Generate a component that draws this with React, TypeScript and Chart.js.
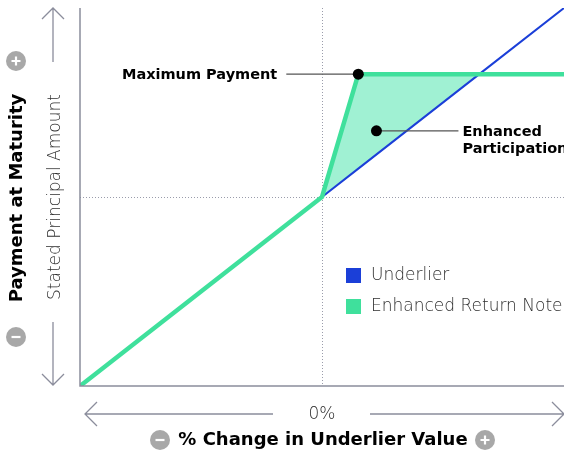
import React, { useEffect, useRef } from "react";
import { Chart, registerables } from "chart.js";

Chart.register(...registerables);

const xValues = [-1, 0, 0.15, 0.65, 1];
const underlierValues = [-1, 0, 0.15, 0.65, 1];
const enhancedValues = [-1, 0, 0.65, 0.65, 0.65];
const seriesLabels = ["Underlier", "Enhanced Return Note"];
const maxPaymentPoint = { x: 0.15, y: 0.65 };
const participationPoint = { x: 0.225, y: 0.35 };
const xAxisTitle = "% Change in Underlier Value";
const yAxisTitle = "Payment at Maturity";
const yMidLabel = "Stated Principal Amount";
const xMidLabel = "0%";

const BLUE = "#1b3fd8";
const GREEN = "#3fe09c";
const FILL = "#a0f1d3";
const AXIS = "#8b8d9c";
const CIRCLE = "#a8a8a8";
const BOLD_FONT = "'DejaVu Sans', sans-serif";
const LIGHT_FONT = "'DejaVu Sans', sans-serif";
const LIGHT_COLOR = "#2e2e2e";

function circleSign(ctx: CanvasRenderingContext2D, cx: number, cy: number, plus: boolean) {
  ctx.save();
  ctx.fillStyle = CIRCLE;
  ctx.beginPath();
  ctx.arc(cx, cy, 10, 0, Math.PI * 2);
  ctx.fill();
  ctx.strokeStyle = "#ffffff";
  ctx.lineWidth = 2.2;
  ctx.beginPath();
  ctx.moveTo(cx - 4.5, cy);
  ctx.lineTo(cx + 4.5, cy);
  if (plus) {
    ctx.moveTo(cx, cy - 4.5);
    ctx.lineTo(cx, cy + 4.5);
  }
  ctx.stroke();
  ctx.restore();
}

const decorPlugin = {
  id: "decor",
  beforeDatasetsDraw(chart: any) {
    const { ctx, chartArea, scales } = chart;
    const xs = scales.x;
    const ys = scales.y;
    const x0 = xs.getPixelForValue(0);
    const y0 = ys.getPixelForValue(0);
    ctx.save();
    ctx.strokeStyle = "#9a9cab";
    ctx.lineWidth = 1;
    ctx.setLineDash([1, 2]);
    ctx.beginPath();
    ctx.moveTo(Math.round(x0) + 0.5, chartArea.top);
    ctx.lineTo(Math.round(x0) + 0.5, chartArea.bottom);
    ctx.moveTo(chartArea.left, Math.round(y0) + 0.5);
    ctx.lineTo(chartArea.right, Math.round(y0) + 0.5);
    ctx.stroke();
    ctx.restore();
  },
  afterDatasetsDraw(chart: any) {
    const { ctx, chartArea, scales } = chart;
    const xs = scales.x;
    const ys = scales.y;
    const left = chartArea.left;
    const right = chartArea.right;
    const top = chartArea.top;
    const bottom = chartArea.bottom;
    const xc = xs.getPixelForValue(0);
    const yc = ys.getPixelForValue(0);

    // axis lines
    ctx.save();
    ctx.strokeStyle = AXIS;
    ctx.lineWidth = 1.5;
    ctx.beginPath();
    ctx.moveTo(left, top);
    ctx.lineTo(left, bottom);
    ctx.lineTo(right, bottom);
    ctx.stroke();
    ctx.restore();

    // annotations
    const mx = xs.getPixelForValue(maxPaymentPoint.x);
    const my = ys.getPixelForValue(maxPaymentPoint.y);
    const px = xs.getPixelForValue(participationPoint.x);
    const py = ys.getPixelForValue(participationPoint.y);
    ctx.save();
    ctx.strokeStyle = "#555555";
    ctx.lineWidth = 1.2;
    ctx.beginPath();
    ctx.moveTo(mx - 72, my);
    ctx.lineTo(mx, my);
    ctx.moveTo(px, py);
    ctx.lineTo(px + 82, py);
    ctx.stroke();
    ctx.fillStyle = "#000000";
    ctx.beginPath();
    ctx.arc(mx, my, 5.5, 0, Math.PI * 2);
    ctx.fill();
    ctx.beginPath();
    ctx.arc(px, py, 5.5, 0, Math.PI * 2);
    ctx.fill();
    ctx.font = `bold 14.5px ${BOLD_FONT}`;
    ctx.textBaseline = "middle";
    ctx.textAlign = "right";
    ctx.fillText("Maximum Payment", mx - 81, my + 1);
    ctx.textAlign = "left";
    ctx.fillText("Enhanced", px + 86, py + 1);
    ctx.fillText("Participation", px + 86, py + 18);
    ctx.restore();

    // legend
    const datasets = chart.data.datasets;
    ctx.save();
    ctx.font = `200 17px ${LIGHT_FONT}`;
    ctx.textBaseline = "middle";
    ctx.textAlign = "left";
    datasets.forEach((ds: any, i: number) => {
      const ly = 275 + i * 31;
      ctx.fillStyle = ds.borderColor;
      ctx.fillRect(346, ly - 7, 15, 15);
      ctx.fillStyle = LIGHT_COLOR;
      ctx.fillText(ds.label, 371, ly + 1);
    });
    ctx.restore();

    // vertical outside arrow
    const ax = 53;
    ctx.save();
    ctx.strokeStyle = AXIS;
    ctx.lineWidth = 1.3;
    ctx.beginPath();
    ctx.moveTo(ax, top);
    ctx.lineTo(ax, 62);
    ctx.moveTo(ax, 322);
    ctx.lineTo(ax, bottom - 1);
    ctx.moveTo(ax - 11, top + 11);
    ctx.lineTo(ax, top);
    ctx.lineTo(ax + 11, top + 11);
    ctx.moveTo(ax - 11, bottom - 12);
    ctx.lineTo(ax, bottom - 1);
    ctx.lineTo(ax + 11, bottom - 12);
    // horizontal outside arrow
    const hy = 414;
    ctx.moveTo(85, hy);
    ctx.lineTo(273, hy);
    ctx.moveTo(370, hy);
    ctx.lineTo(right, hy);
    ctx.moveTo(97, hy - 12);
    ctx.lineTo(85, hy);
    ctx.lineTo(97, hy + 12);
    ctx.moveTo(right - 12, hy - 12);
    ctx.lineTo(right, hy);
    ctx.lineTo(right - 12, hy + 12);
    ctx.stroke();
    ctx.restore();

    // labels
    ctx.save();
    ctx.fillStyle = LIGHT_COLOR;
    ctx.font = `200 17px ${LIGHT_FONT}`;
    ctx.textAlign = "center";
    ctx.textBaseline = "middle";
    ctx.fillText(xMidLabel, xc, 415);
    ctx.save();
    ctx.translate(56, yc);
    ctx.rotate(-Math.PI / 2);
    ctx.fillText(yMidLabel, 0, 0);
    ctx.restore();
    ctx.fillStyle = "#000000";
    ctx.font = `bold 18px ${BOLD_FONT}`;
    ctx.fillText(xAxisTitle, xc + 1, 440);
    ctx.save();
    ctx.translate(17, yc + 1);
    ctx.rotate(-Math.PI / 2);
    ctx.fillText(yAxisTitle, 0, 0);
    ctx.restore();
    ctx.restore();

    circleSign(ctx, 16, 61, true);
    circleSign(ctx, 16, 337, false);
    circleSign(ctx, 160, 440, false);
    circleSign(ctx, 485, 440, true);
  },
};

export default function App() {
  const canvasRef = useRef<HTMLCanvasElement | null>(null);

  useEffect(() => {
    const canvas = canvasRef.current;
    if (!canvas) return;
    const chart = new Chart(canvas, {
      type: "line",
      data: {
        datasets: [
          {
            label: seriesLabels[0],
            data: xValues.map((x, i) => ({ x, y: underlierValues[i] })),
            borderColor: BLUE,
            backgroundColor: BLUE,
            borderWidth: 2,
            pointRadius: 0,
            fill: false,
            order: 2,
          },
          {
            label: seriesLabels[1],
            data: xValues.map((x, i) => ({ x, y: enhancedValues[i] })),
            borderColor: GREEN,
            backgroundColor: GREEN,
            borderWidth: 4.5,
            pointRadius: 0,
            fill: { target: 0, above: FILL, below: "rgba(0,0,0,0)" },
            order: 1,
          },
        ],
      },
      options: {
        responsive: false,
        animation: false,
        layout: { padding: { left: 80, right: 0, top: 8, bottom: 66 } },
        scales: {
          x: { type: "linear", min: -1, max: 1, display: false },
          y: { type: "linear", min: -1, max: 1, display: false },
        },
        plugins: {
          legend: { display: false },
          tooltip: { enabled: false },
          filler: { drawTime: "beforeDatasetsDraw" },
        },
      },
      plugins: [decorPlugin],
    } as any);
    return () => chart.destroy();
  }, []);

  return (
    <div style={{ position: "fixed", left: 0, top: 0, width: 564, height: 452, background: "#fff" }}>
      <canvas ref={canvasRef} width={564} height={452} />
    </div>
  );
}
